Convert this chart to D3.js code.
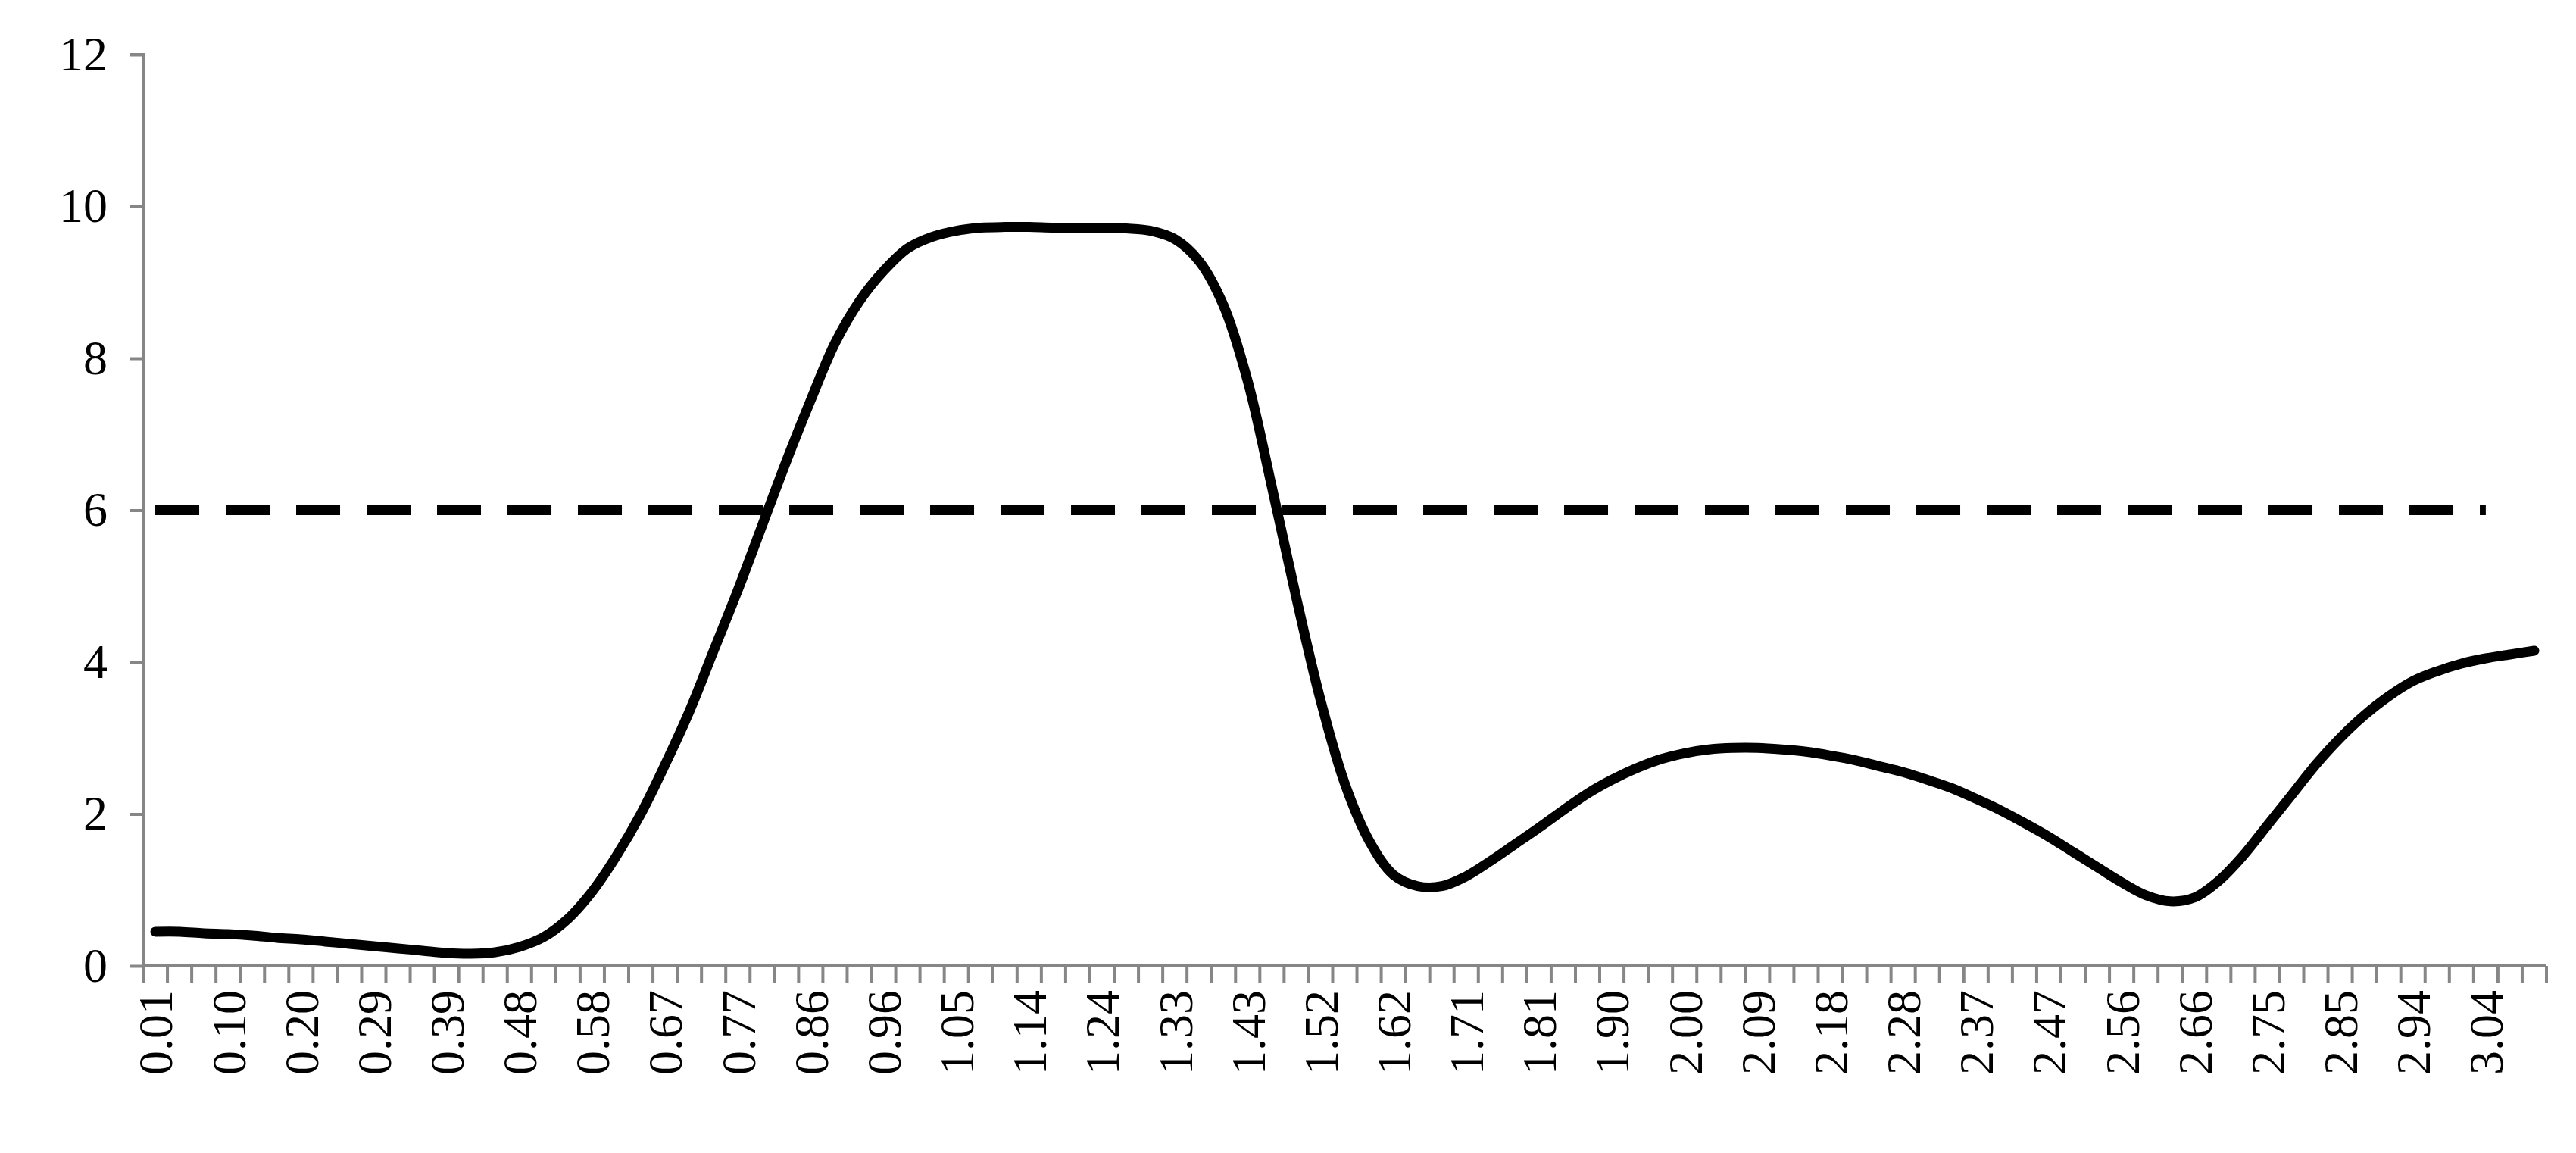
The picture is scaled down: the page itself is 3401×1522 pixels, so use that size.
<!DOCTYPE html>
<html>
<head>
<meta charset="utf-8">
<script src="https://cdn.jsdelivr.net/npm/d3@7"></script>
<style>
	html, body { margin: 0; padding: 0; background: #fff; }
	text { font-family: "Liberation Serif", "DejaVu Serif", serif; }
</style>
</head>
<body>
<div id="graph"></div>
<script>
/*
 * one value per category
 */
var curve = [
	0.45, 0.45, 0.43, 0.42, 0.40, 0.37, 0.35, 0.32, 0.29, 0.26,
	0.23, 0.20, 0.17, 0.16, 0.18, 0.25, 0.38, 0.62, 0.98, 1.45,
	2.00, 2.65, 3.35, 4.15, 4.95, 5.80, 6.65, 7.45, 8.20, 8.75,
	9.15, 9.45, 9.60, 9.68, 9.72, 9.73, 9.73, 9.72, 9.72, 9.72,
	9.71, 9.68, 9.57, 9.28, 8.70, 7.70, 6.30, 4.85, 3.50, 2.40,
	1.65, 1.20, 1.05, 1.05, 1.18, 1.38, 1.60, 1.82, 2.05, 2.27,
	2.45, 2.60, 2.72, 2.80, 2.85, 2.87, 2.87, 2.85, 2.82, 2.77,
	2.71, 2.63, 2.55, 2.45, 2.34, 2.20, 2.05, 1.88, 1.70, 1.50,
	1.30, 1.10, 0.93, 0.85, 0.90, 1.12, 1.45, 1.85, 2.25, 2.65,
	3.00, 3.30, 3.55, 3.75, 3.88, 3.98, 4.05, 4.10, 4.15
];

// constant limit line, drawn over the first 97 categories
var limitValue = 6;
var limitCount = 97;

// every third category carries a label
var tickLabels = [ "0.01", "0.10", "0.20", "0.29", "0.39", "0.48", "0.58",
	"0.67", "0.77", "0.86", "0.96", "1.05", "1.14", "1.24", "1.33", "1.43",
	"1.52", "1.62", "1.71", "1.81", "1.90", "2.00", "2.09", "2.18", "2.28",
	"2.37", "2.47", "2.56", "2.66", "2.75", "2.85", "2.94", "3.04" ];

var yTicks = [0, 2, 4, 6, 8, 10, 12];

var width = 3401, height = 1522;
var plotLeft = 189, plotRight = 3362, plotTop = 72, plotBottom = 1275;
var axisGrey = "#868686";

var xScale = d3.scaleBand()
	.domain(d3.range(curve.length))
	.range([plotLeft, plotRight]);
var yScale = d3.scaleLinear()
	.domain([0, 12])
	.range([plotBottom, plotTop]);

var svg = d3.select("#graph").append("svg")
	.attr("width", width)
	.attr("height", height);

// y axis
var yAxis = d3.axisLeft(yScale)
	.tickValues(yTicks)
	.tickSize(17)
	.tickPadding(30)
	.tickFormat(d3.format("d"));
var yg = svg.append("g")
	.attr("transform", "translate(" + plotLeft + ",0)")
	.call(yAxis);
yg.selectAll("path, line").attr("stroke", axisGrey).attr("stroke-width", 4);
yg.select(".domain").attr("d", "M-17," + plotTop + "H0V" + plotBottom);
yg.selectAll("text").attr("font-size", 64).attr("fill", "#000")
	.style("font-family", "'Liberation Serif', serif");

// x axis: ticks on category boundaries
var xg = svg.append("g");
xg.append("line")
	.attr("x1", plotLeft).attr("x2", plotRight)
	.attr("y1", plotBottom).attr("y2", plotBottom)
	.attr("stroke", axisGrey).attr("stroke-width", 4);
xg.selectAll("line.tick")
	.data(d3.range(curve.length + 1))
	.enter().append("line")
	.attr("class", "tick")
	.attr("x1", function (d) { return plotLeft + d * xScale.step(); })
	.attr("x2", function (d) { return plotLeft + d * xScale.step(); })
	.attr("y1", plotBottom).attr("y2", plotBottom + 22)
	.attr("stroke", axisGrey).attr("stroke-width", 4);
xg.selectAll("text")
	.data(tickLabels)
	.enter().append("text")
	.attr("transform", function (d, i) {
		var x = xScale(i * 3) + xScale.bandwidth() / 2;
		return "translate(" + x + "," + (plotBottom + 32) + ") rotate(-90)";
	})
	.attr("text-anchor", "end")
	.attr("dy", "0.35em")
	.attr("font-size", 64)
	.text(function (d) { return d; });

function cx(d, i) { return xScale(i) + xScale.bandwidth() / 2; }

// dashed limit
var limit = d3.range(limitCount).map(function () { return limitValue; });
svg.append("path")
	.datum(limit)
	.attr("fill", "none")
	.attr("stroke", "#000")
	.attr("stroke-width", 13)
	.attr("stroke-dasharray", "58,35")
	.attr("d", d3.line().x(cx).y(function (d) { return yScale(d); }));

// smoothed curve
svg.append("path")
	.datum(curve)
	.attr("fill", "none")
	.attr("stroke", "#000")
	.attr("stroke-width", 13)
	.attr("stroke-linecap", "round")
	.attr("stroke-linejoin", "round")
	.attr("d", d3.line().x(cx).y(function (d) { return yScale(d); })
		.curve(d3.curveCatmullRom));
</script>
</body>
</html>
